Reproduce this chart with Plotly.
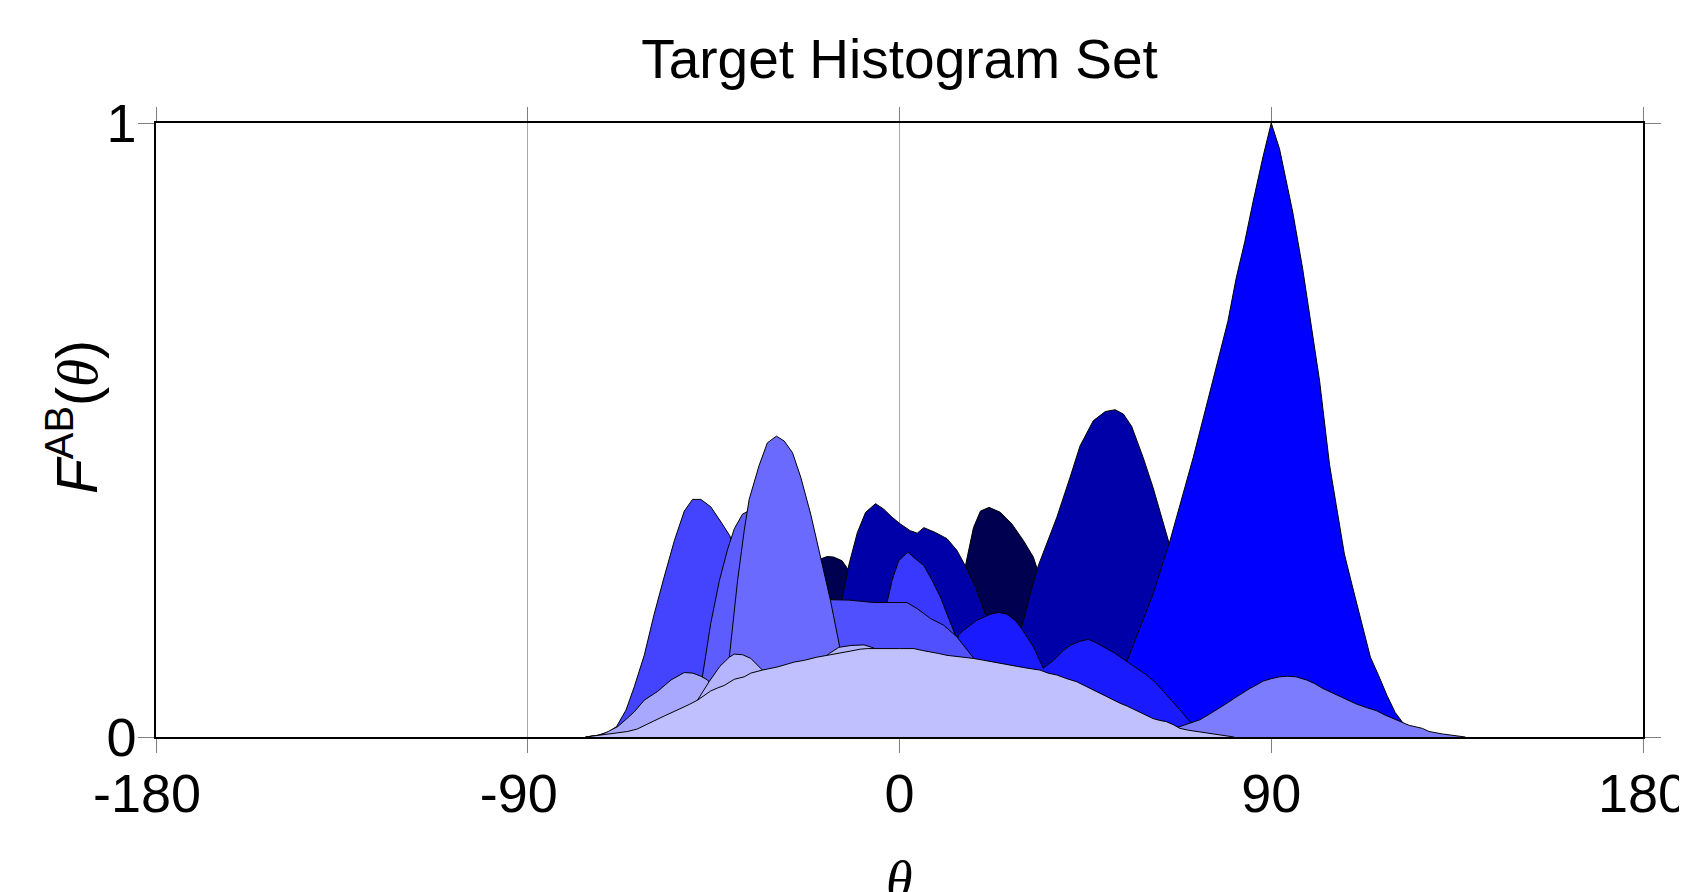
import plotly.graph_objects as go

# ---------------- data ----------------
tick_vals = [-180, -90, 0, 90, 180]
tick_text = ["-180\u2004", "-90\u2004", "0", "90", "180"]
y_tick_vals = [0, 1]
y_tick_text = ["0", "1"]

# back-to-front drawing order
theta_navy = [-28, -25, -22, -19.1, -17.5, -15.9, -13.9, -12.2, -9, -5, 0, 5, 10, 14, 16, 17.9, 19.6, 21.7, 24.4, 27.2, 30, 32.4, 35, 38, 42, 46, 50]
value_navy = [0, 0.1, 0.22, 0.29, 0.294, 0.293, 0.287, 0.27, 0.24, 0.2, 0.19, 0.2, 0.22, 0.25, 0.28, 0.341, 0.368, 0.374, 0.366, 0.347, 0.32, 0.293, 0.24, 0.17, 0.08, 0.02, 0]

theta_dark = [-18, -16, -13.9, -12.2, -10.2, -8.2, -5.8, -3.8, -1.8, 0.2, 2.6, 4.3, 5.9, 8.7, 11.5, 13.9, 15.9, 18.4, 20.8, 23, 25.5, 28, 29.6, 31.5, 33.6, 36.5, 38.1, 41.3, 43.7, 46.9, 49.8, 52.2, 54.2, 56.2, 59, 61.4, 63.8, 65.3, 68, 71, 74, 77, 80]
value_dark = [0, 0.1, 0.225, 0.282, 0.333, 0.366, 0.38, 0.371, 0.358, 0.347, 0.336, 0.332, 0.341, 0.333, 0.323, 0.304, 0.279, 0.244, 0.2, 0.17, 0.15, 0.16, 0.179, 0.23, 0.279, 0.331, 0.358, 0.423, 0.474, 0.515, 0.53, 0.533, 0.526, 0.506, 0.455, 0.406, 0.352, 0.315, 0.25, 0.17, 0.1, 0.04, 0]

theta_blue = [40, 45, 50, 55, 58.2, 61.4, 65.5, 68.7, 71.1, 74.7, 77.1, 79.5, 81.5, 83.6, 85.6, 88, 90, 92, 95.2, 97.6, 101.7, 104.1, 105.7, 107.7, 109.7, 111.7, 114, 116, 118, 120, 122, 125, 128, 130]
value_blue = [0, 0.04, 0.08, 0.122, 0.176, 0.233, 0.32, 0.396, 0.455, 0.55, 0.612, 0.677, 0.747, 0.807, 0.872, 0.945, 1.0, 0.958, 0.855, 0.763, 0.58, 0.444, 0.379, 0.298, 0.244, 0.19, 0.13, 0.1, 0.068, 0.04, 0.022, 0.01, 0.003, 0]

theta_bright = [8, 11, 14.3, 15.5, 18.7, 22, 24, 26, 28, 29.6, 32.4, 34.8, 37.3, 39.7, 41.5, 43.7, 45.7, 47.5, 49.5, 52, 54.6, 57, 59.4, 61.8, 64, 66.3, 68.3, 70.3, 73, 76, 79]
value_bright = [0, 0.08, 0.166, 0.174, 0.19, 0.2, 0.203, 0.2, 0.19, 0.176, 0.147, 0.112, 0.125, 0.141, 0.15, 0.156, 0.159, 0.154, 0.147, 0.137, 0.125, 0.114, 0.103, 0.09, 0.074, 0.057, 0.041, 0.025, 0.012, 0.004, 0]

theta_b38 = [-8, -5, -3, -1.8, -0.2, 2, 3.9, 5.9, 7.9, 9.9, 11.5, 13.5, 15.5, 18, 21]
value_b38 = [0, 0.12, 0.22, 0.255, 0.287, 0.301, 0.29, 0.279, 0.255, 0.228, 0.2, 0.166, 0.12, 0.06, 0]

theta_b44 = [-76, -73, -70.5, -68.5, -66.2, -64.2, -61.8, -59.4, -57, -54.5, -52.1, -50.1, -48.1, -45.7, -43.2, -41.1, -38.5, -36, -33, -30, -27]
value_b44 = [0, 0.003, 0.008, 0.017, 0.044, 0.082, 0.133, 0.2, 0.26, 0.32, 0.368, 0.387, 0.387, 0.375, 0.35, 0.328, 0.28, 0.2, 0.1, 0.03, 0]

theta_b50 = [-40, -35, -30, -25, -20, -17.1, -12.3, -6.2, 1.8, 4.3, 7.5, 10.7, 13.9, 16, 17.9, 20, 23, 26, 29]
value_b50 = [0, 0.1, 0.18, 0.215, 0.224, 0.224, 0.223, 0.219, 0.219, 0.209, 0.193, 0.182, 0.163, 0.145, 0.129, 0.1, 0.06, 0.02, 0]

theta_b5c = [-52, -50, -48.5, -47.7, -45.7, -43.6, -41.6, -40, -38, -36, -34, -31, -27, -23, -19, -16]
value_b5c = [0, 0.02, 0.06, 0.099, 0.185, 0.255, 0.306, 0.339, 0.363, 0.37, 0.36, 0.3, 0.2, 0.1, 0.03, 0]

theta_b6a = [-44, -42.5, -41.2, -39.2, -37.6, -36.4, -34, -32, -29.8, -27.9, -25.9, -23.9, -21.5, -19.1, -16.7, -14.4, -12, -10]
value_b6a = [0, 0.05, 0.13, 0.255, 0.336, 0.387, 0.442, 0.479, 0.49, 0.482, 0.463, 0.423, 0.363, 0.293, 0.222, 0.144, 0.06, 0]

theta_b80 = [55, 60, 64, 67.9, 70, 72.7, 75, 77.5, 79.5, 81.5, 83, 84.8, 86.5, 88, 90, 92, 94, 96, 98.5, 100.5, 102.5, 105, 107.3, 110.5, 113, 115.4, 117.8, 120.2, 123.4, 126.6, 128.2, 131.4, 134.6, 137]
value_b80 = [0, 0.005, 0.01, 0.017, 0.022, 0.028, 0.037, 0.047, 0.056, 0.065, 0.072, 0.079, 0.085, 0.091, 0.095, 0.098, 0.099, 0.098, 0.093, 0.087, 0.079, 0.071, 0.063, 0.054, 0.048, 0.043, 0.035, 0.028, 0.019, 0.014, 0.009, 0.005, 0.002, 0]

theta_ba8 = [-76, -72.6, -70.5, -68.2, -66, -64.2, -61.8, -58.6, -55.3, -52.1, -50, -48.1, -46.5, -44, -41, -38, -34]
value_ba8 = [0, 0.003, 0.009, 0.017, 0.03, 0.041, 0.06, 0.074, 0.093, 0.105, 0.104, 0.099, 0.093, 0.07, 0.04, 0.02, 0]

theta_bb4 = [-52, -50, -48.9, -47.5, -46.1, -43.5, -41.2, -40, -38, -36, -33.2, -30, -25, -20, -17, -14.7, -11.8, -8.6, -6.2, -4, 0, 5, 10]
value_bb4 = [0, 0.04, 0.06, 0.075, 0.09, 0.115, 0.13, 0.135, 0.134, 0.128, 0.109, 0.105, 0.11, 0.12, 0.136, 0.146, 0.149, 0.15, 0.145, 0.13, 0.1, 0.05, 0]

theta_bc0 = [-76, -73.4, -70.5, -68.2, -65.8, -63.5, -61.8, -59.5, -57, -55, -52.9, -50.9, -48.9, -47.3, -45.7, -44, -42.4, -40, -37.6, -36, -33.2, -29.6, -27, -25.5, -23, -20, -16.7, -14, -11.8, -9.5, -7.8, 0, 3.5, 5.5, 7.5, 9.5, 11.5, 14.7, 17.9, 20.4, 23.6, 26, 28.5, 31, 34, 36, 38.1, 40.5, 42.9, 45.3, 47.7, 50.1, 52, 53.4, 55.2, 57, 59.2, 61.4, 63, 64.6, 66.3, 67.9, 70, 71.9, 73.5, 75.1, 77, 79.1, 81]
value_bc0 = [0, 0.002, 0.005, 0.007, 0.009, 0.013, 0.019, 0.026, 0.034, 0.04, 0.046, 0.053, 0.06, 0.067, 0.075, 0.08, 0.084, 0.094, 0.098, 0.104, 0.109, 0.114, 0.119, 0.122, 0.125, 0.13, 0.134, 0.138, 0.14, 0.143, 0.144, 0.144, 0.144, 0.141, 0.139, 0.136, 0.133, 0.131, 0.128, 0.125, 0.121, 0.117, 0.115, 0.112, 0.109, 0.104, 0.101, 0.095, 0.09, 0.082, 0.074, 0.065, 0.059, 0.055, 0.05, 0.044, 0.037, 0.03, 0.027, 0.025, 0.02, 0.014, 0.011, 0.009, 0.007, 0.006, 0.004, 0.002, 0]

series = [
    (theta_navy, value_navy, "#000050"),
    (theta_dark, value_dark, "#0000A8"),
    (theta_blue, value_blue, "#0000FF"),
    (theta_bright, value_bright, "#1A1AFF"),
    (theta_b38, value_b38, "#3838FF"),
    (theta_b44, value_b44, "#4444FF"),
    (theta_b50, value_b50, "#5050FF"),
    (theta_b5c, value_b5c, "#5C5CFF"),
    (theta_b6a, value_b6a, "#6A6AFF"),
    (theta_b80, value_b80, "#7C7CFF"),
    (theta_ba8, value_ba8, "#A8A8FF"),
    (theta_bb4, value_bb4, "#B4B4FF"),
    (theta_bc0, value_bc0, "#C0C0FF"),
]

FONT = "Liberation Sans, Arial, sans-serif"
ML, MR, MT, MB = 148, 52, 114.5, 162.5
W, H = 1687, 892
PW = W - ML - MR
PH = H - MT - MB

fig = go.Figure()
for xs, ys, col in series:
    fig.add_trace(go.Scatter(
        x=xs, y=ys, mode="lines", fill="tozeroy",
        fillcolor=col, line=dict(color="black", width=1),
        showlegend=False, hoverinfo="skip",
    ))

fig.update_layout(
    width=W, height=H,
    margin=dict(l=ML, r=MR, t=MT, b=MB, autoexpand=False),
    paper_bgcolor="white", plot_bgcolor="white",
    font=dict(family=FONT, size=54, color="black"),
    title=dict(
        text="Target Histogram Set",
        x=0.5, xref="paper", xanchor="center",
        y=1 - 51 / H, yref="container", yanchor="middle",
        font=dict(family=FONT, size=55, color="black"),
    ),
    xaxis=dict(
        range=[-180, 180], tickvals=tick_vals, ticktext=tick_text,
        automargin=False, ticklabeloverflow="allow",
        showgrid=True, gridcolor="#A8A8A8", gridwidth=1,
        zeroline=False, showline=True, linecolor="black", linewidth=2,
        mirror="ticks", ticks="outside", ticklen=14, tickcolor="#808080", tickwidth=1,
        ticklabelstandoff=-6,
        tickfont=dict(family=FONT, size=54, color="black"),
    ),
    yaxis=dict(
        range=[0, 1], tickvals=y_tick_vals, ticktext=y_tick_text,
        automargin=False,
        showgrid=False, zeroline=False, showline=True, linecolor="black", linewidth=1.5,
        mirror="ticks", ticks="outside", ticklen=16, tickcolor="#808080", tickwidth=1,
        ticklabelstandoff=-9,
        tickfont=dict(family=FONT, size=54, color="black"),
    ),
)

fig.add_annotation(
    text='<i>F</i><sup>AB</sup>(<span style="font-family:Liberation Serif"><i>θ</i></span>)',
    xref="paper", yref="paper", x=(65 - ML) / PW, y=(H - MB - 409) / PH,
    xanchor="center", yanchor="middle", textangle=-90, showarrow=False,
    font=dict(family=FONT, size=57, color="black"),
)
fig.add_annotation(
    text='<span style="font-family:Liberation Serif"><i>θ</i></span>',
    xref="x", yref="paper", x=0, y=-(842 - (H - MB)) / PH,
    xanchor="center", yanchor="top", showarrow=False,
    font=dict(family=FONT, size=54, color="black"),
)

fig.write_html("out.html")
